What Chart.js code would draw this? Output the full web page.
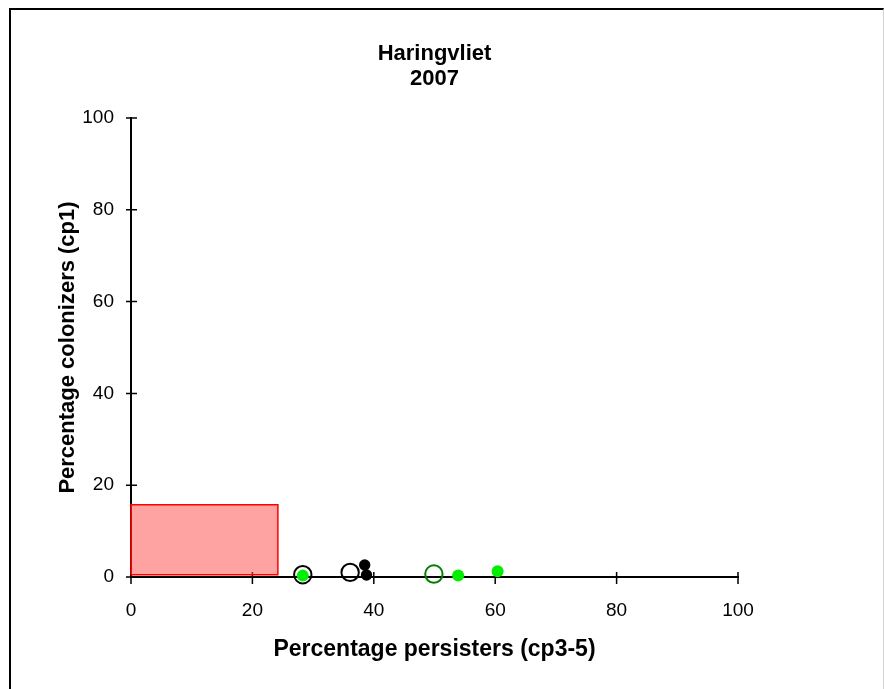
<!DOCTYPE html>
<html>
<head>
<meta charset="utf-8">
<script src="https://cdn.jsdelivr.net/npm/chart.js@4/dist/chart.umd.min.js"></script>
<style>
    html, body { margin: 0; padding: 0; background: #fff; }
    #wrap { position: relative; width: 884px; height: 689px; overflow: hidden; }
    #frame {
        position: absolute; left: 9px; top: 8px; width: 875px; height: 700px;
        box-sizing: border-box;
        border-left: 2px solid #000; border-top: 2px solid #000; border-right: 1px solid #d4d4d4;
        pointer-events: none;
    }
    canvas { position: absolute; left: 0; top: 0; }
</style>
</head>
<body>
<div id="wrap">
    <canvas id="myChart" width="884" height="689"></canvas>
    <div id="frame"></div>
</div>
<script>
// values
const openBlackX = [28.3, 36.1];
const openBlackY = [0.5, 1.0];
const filledBlackX = [38.5, 38.8];
const filledBlackY = [2.6, 0.45];
const openGreenX = [49.9];
const openGreenY = [0.65];
const filledGreenX = [28.3, 53.9, 60.4];
const filledGreenY = [0.3, 0.35, 1.25];
// reference box (x from..to, y from..to)
const boxX = [0, 24.2];
const boxY = [0.5, 15.75];
const axisTicks = [0, 20, 40, 60, 80, 100];

const titleLines = ["Haringvliet", "2007"];
const xTitle = "Percentage persisters (cp3-5)";
const yTitle = "Percentage colonizers (cp1)";

const FONT = "'Liberation Sans', Arial, sans-serif";

const toPoints = (xs, ys) => xs.map((x, i) => ({ x, y: ys[i] }));

const boxPoints = [
    { x: boxX[0], y: boxY[0] },
    { x: boxX[1], y: boxY[0] },
    { x: boxX[1], y: boxY[1] },
    { x: boxX[0], y: boxY[1] },
    { x: boxX[0], y: boxY[0] }
];

// excel style tick marks that cross the axis line
const crossTicks = {
    id: "crossTicks",
    beforeDatasetsDraw(chart) {
        const { ctx, scales: { x, y } } = chart;
        const y0 = y.getPixelForValue(0);
        const x0 = x.getPixelForValue(0);
        ctx.save();
        ctx.strokeStyle = "#000";
        ctx.lineWidth = 1.5;
        ctx.beginPath();
        axisTicks.forEach((v) => {
            const px = x.getPixelForValue(v);
            ctx.moveTo(px, y0 - 5);
            ctx.lineTo(px, y0 + 7);
            const py = y.getPixelForValue(v);
            ctx.moveTo(x0 - 5, py);
            ctx.lineTo(x0 + 6, py);
        });
        ctx.stroke();
        ctx.restore();
    }
};

// title centred over the plot area, not over the whole canvas
const plotTitle = {
    id: "plotTitle",
    afterDraw(chart) {
        const { ctx, chartArea } = chart;
        const cx = (chartArea.left + chartArea.right) / 2;
        ctx.save();
        ctx.fillStyle = "#000";
        ctx.font = "bold 22px " + FONT;
        ctx.textAlign = "center";
        ctx.textBaseline = "middle";
        titleLines.forEach((line, i) => {
            ctx.fillText(line, cx, chartArea.top - 64 + i * 25);
        });
        ctx.restore();
    }
};

const tickFont = { family: FONT, size: 19 };

const ctx = document.getElementById("myChart").getContext("2d");
const myChart = new Chart(ctx, {
    type: "scatter",
    data: {
        datasets: [
            {
                data: toPoints(filledGreenX, filledGreenY),
                pointStyle: "circle",
                pointRadius: 6,
                backgroundColor: "#00ee00",
                borderColor: "#00ee00",
                borderWidth: 0,
                clip: false
            },
            {
                data: toPoints(filledBlackX, filledBlackY),
                pointStyle: "circle",
                pointRadius: 5.7,
                backgroundColor: "#000",
                borderColor: "#000",
                borderWidth: 0,
                clip: false
            },
            {
                data: toPoints(openGreenX, openGreenY),
                pointStyle: "circle",
                pointRadius: 8.7,
                backgroundColor: "rgba(0,0,0,0)",
                borderColor: "#008000",
                borderWidth: 2,
                clip: false
            },
            {
                data: toPoints(openBlackX, openBlackY),
                pointStyle: "circle",
                pointRadius: 8.7,
                backgroundColor: "rgba(0,0,0,0)",
                borderColor: "#000",
                borderWidth: 2,
                clip: false
            },
            {
                type: "line",
                data: boxPoints,
                pointRadius: 0,
                borderColor: "#ff0000",
                borderWidth: 1.5,
                backgroundColor: "rgba(255,70,70,0.5)",
                fill: "shape",
                tension: 0,
                clip: false
            }
        ]
    },
    options: {
        responsive: false,
        animation: false,
        layout: { padding: { left: 0, right: 146, top: 118, bottom: 0 } },
        plugins: {
            legend: { display: false },
            tooltip: { enabled: false },
            title: { display: false }
        },
        scales: {
            x: {
                type: "linear",
                min: 0,
                max: 100,
                afterFit: (scale) => { scale.height = 112; },
                grid: { display: false, drawTicks: false },
                border: { display: true, color: "#000", width: 2 },
                ticks: { stepSize: 20, color: "#000", font: tickFont, padding: 22, maxRotation: 0 },
                title: { display: true, text: xTitle, color: "#000", font: { family: FONT, size: 23, weight: "bold" }, padding: { top: 0, bottom: 26 } }
            },
            y: {
                type: "linear",
                min: 0,
                max: 100,
                afterFit: (scale) => { scale.width = 131; },
                grid: { display: false, drawTicks: false },
                border: { display: true, color: "#000", width: 2 },
                ticks: { stepSize: 20, color: "#000", font: tickFont, padding: 17 },
                title: { display: true, text: yTitle, color: "#000", font: { family: FONT, size: 22, weight: "bold" }, padding: { top: 55, bottom: 0 } }
            }
        }
    },
    plugins: [crossTicks, plotTitle]
});
</script>
</body>
</html>
